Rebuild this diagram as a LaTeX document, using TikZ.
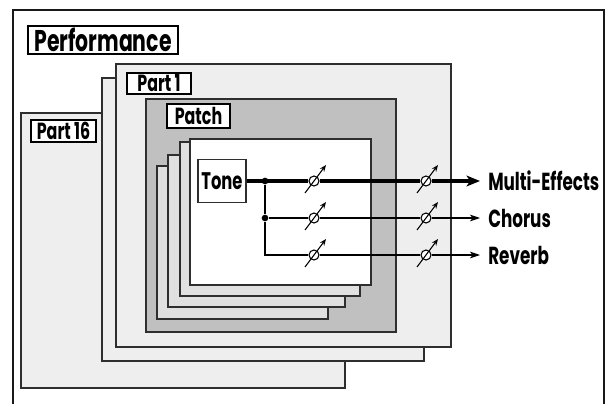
\documentclass[tikz,border=0pt]{standalone}
\usepackage{fontspec}
\usepackage{tikz}
\usetikzlibrary{arrows.meta,calc}
\newfontfamily\rolandfont{Poppins}[FakeStretch=0.68]
\definecolor{SheetGray}{HTML}{EEEEEE}
\definecolor{PatchGray}{HTML}{C0C0C0}
\definecolor{ToneGray}{HTML}{E0E0E0}
\definecolor{EdgeGray}{HTML}{2E2E2E}
\tikzset{
  frame/.style={draw=black!90, line width=1.5pt},
  sheet/.style={draw=EdgeGray, fill=SheetGray, line width=0.9pt},
  patchsheet/.style={sheet, fill=PatchGray},
  tonesheet/.style={sheet, fill=ToneGray},
  frontsheet/.style={sheet, fill=white},
  tag/.style={draw=black, fill=white, line width=0.8pt, inner sep=0pt, text=black,
              font=\rolandfont\bfseries\fontsize{17.5pt}{18pt}\selectfont},
  bigtag/.style={tag, line width=1.5pt, font=\rolandfont\bfseries\fontsize{22.5pt}{23pt}\selectfont},
  tonebox/.style={tag, draw=EdgeGray, line width=0.9pt, font=\rolandfont\bfseries\fontsize{18pt}{19pt}\selectfont},
  outlabel/.style={anchor=west, inner xsep=6pt, inner ysep=0pt, text=black,
                   font=\rolandfont\bfseries\fontsize{18.5pt}{20pt}\selectfont},
  signal/.style={draw=black, line width=0.8pt},
  mainsignal/.style={draw=black, line width=2.3pt},
  outarrow/.style={signal, -{Stealth[length=7.5pt, width=5pt, inset=2pt]}},
  mainarrow/.style={mainsignal, -{Stealth[length=10pt, width=8pt, inset=2.5pt]}},
  knob/.style={circle, draw=black, fill=white, line width=0.8pt, minimum size=7.5pt, inner sep=0pt},
  knobarrow/.style={draw=black, line width=0.8pt, -{Stealth[length=5pt, width=4pt]}},
  junction/.style={circle, fill=black, minimum size=5pt, inner sep=0pt},
}
\newcommand{\knobcol}[2]{%
  \node[knob] (knob#1-1) at (#2,181) {};%
  \node[knob] (knob#1-2) at (#2,218) {};%
  \node[knob] (knob#1-3) at (#2,255) {};%
}

\begin{document}
\begin{tikzpicture}[x=0.75pt, y=-0.75pt]
  \useasboundingbox (0,0) rectangle (609,403);

  % --- performance frame ---------------------------------------------------
  \draw[frame] (13,410) -- (13,10) -- (604,10) -- (604,410);
  \node[bigtag, minimum width=112.5pt, minimum height=21pt] (performance) at (103,40) {Performance};

  % --- parts (16 ... 1) ----------------------------------------------------
  \draw[sheet] (21,113) rectangle (345,388);
  \draw[sheet] (102,78) rectangle (424,361);
  \draw[sheet] (116,64) rectangle (451,347);
  \node[tag, minimum width=48.75pt, minimum height=16.5pt] (part16) at (63.5,131) {Part 16};
  \node[tag, minimum width=48pt, minimum height=15.75pt] (part1) at (159,83.5) {Part 1};

  % --- patch with its stack of tones ---------------------------------------
  \draw[patchsheet] (146,99) rectangle (396,332);
  \node[tag, minimum width=47.25pt, minimum height=18pt] (patch) at (198.5,116) {Patch};
  \draw[tonesheet] (157,166) rectangle (328,319);
  \draw[tonesheet] (168,155) rectangle (345,307);
  \draw[tonesheet] (180,142) rectangle (360,296);
  \draw[frontsheet] (190,139) rectangle (371,285);
  \node[tonebox, minimum width=36pt, minimum height=32.25pt] (tone) at (222,181) {Tone};

  % --- level knobs and outputs ---------------------------------------------
  \knobcol{A}{314}
  \knobcol{B}{426}
  \node[junction] (split1) at (265,181) {};
  \node[junction] (split2) at (265,218) {};
  \coordinate (corner) at (265,255);

  \node[outlabel] (multi) at (480,181) {Multi-Effects};
  \node[outlabel] (chorus) at (480,218) {Chorus};
  \node[outlabel] (reverb) at (480,255) {Reverb};

  \draw[mainsignal] (tone) -- (knobA-1);
  \draw[mainsignal] (knobA-1) -- (knobB-1);
  \draw[mainarrow] (knobB-1) -- (multi.west);
  \draw[signal] (split1) -- (split2) -- (corner) -- (knobA-3);
  \draw[signal] (split2) -- (knobA-2);
  \draw[signal] (knobA-2) -- (knobB-2);
  \draw[signal] (knobA-3) -- (knobB-3);
  \draw[outarrow] (knobB-2) -- (chorus.west);
  \draw[outarrow] (knobB-3) -- (reverb.west);

  \foreach \k in {A-1,A-2,A-3,B-1,B-2,B-3} {
    \draw[knobarrow] ($(knob\k)+(-9,12)$) -- ($(knob\k)+(12,-16)$);
  }

\end{tikzpicture}
\end{document}
